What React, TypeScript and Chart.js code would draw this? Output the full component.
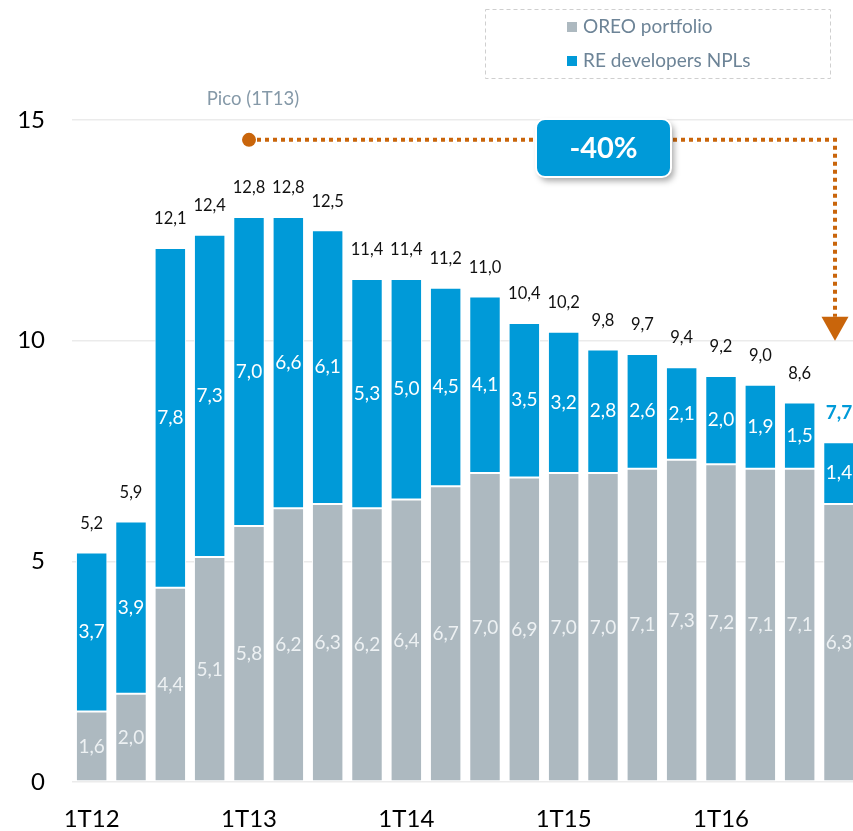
import React, { useEffect, useRef } from 'react';
import { Chart, registerables } from 'chart.js';

Chart.register(...registerables);

const quarters = [
  '1T12', '2T12', '3T12', '4T12',
  '1T13', '2T13', '3T13', '4T13',
  '1T14', '2T14', '3T14', '4T14',
  '1T15', '2T15', '3T15', '4T15',
  '1T16', '2T16', '3T16', '4T16',
];
const oreoValues = [1.6, 2.0, 4.4, 5.1, 5.8, 6.2, 6.3, 6.2, 6.4, 6.7, 7.0, 6.9, 7.0, 7.0, 7.1, 7.3, 7.2, 7.1, 7.1, 6.3];
const nplValues = [3.7, 3.9, 7.8, 7.3, 7.0, 6.6, 6.1, 5.3, 5.0, 4.5, 4.1, 3.5, 3.2, 2.8, 2.6, 2.1, 2.0, 1.9, 1.5, 1.4];
const totals = [5.2, 5.9, 12.1, 12.4, 12.8, 12.8, 12.5, 11.4, 11.4, 11.2, 11.0, 10.4, 10.2, 9.8, 9.7, 9.4, 9.2, 9.0, 8.6, 7.7];
const yTicks = [0, 5, 10, 15];
const seriesNames = ['OREO portfolio', 'RE developers NPLs'];
const peakLabel = 'Pico (1T13)';
const changeLabel = '-40%';
const peakIndex = 4;

const GRAY = '#adb9c0';
const BLUE = '#009ad8';
const ORANGE = '#c9650b';
const FONT = 'Lato, "Open Sans", sans-serif';

const fmt = (v: number) => v.toFixed(1).replace('.', ',');

const overlay = {
  id: 'overlay',
  afterDatasetsDraw(chart: any) {
    const ctx = chart.ctx as CanvasRenderingContext2D;
    const xs = chart.scales.x;
    const ys = chart.scales.y;
    ctx.save();
    ctx.textAlign = 'center';
    ctx.textBaseline = 'middle';
    const last = quarters.length - 1;
    quarters.forEach((_q, i) => {
      const cx = xs.getPixelForValue(i);
      const y0 = ys.getPixelForValue(0);
      const yG = ys.getPixelForValue(oreoValues[i]);
      const yT = ys.getPixelForValue(totals[i]);
      ctx.font = `19px ${FONT}`;
      ctx.fillStyle = '#edf1f3';
      ctx.fillText(fmt(oreoValues[i]), cx, (y0 + yG) / 2);
      ctx.fillStyle = '#ffffff';
      ctx.fillText(fmt(nplValues[i]), cx, (yG + yT) / 2);
      if (i === last) {
        ctx.font = `bold 19px ${FONT}`;
        ctx.fillStyle = BLUE;
      } else {
        ctx.font = `16.5px ${FONT}`;
        ctx.fillStyle = '#111111';
      }
      ctx.fillText(fmt(totals[i]), cx, yT - 29);
    });
    ctx.restore();
  },
  afterDraw(chart: any) {
    const ctx = chart.ctx as CanvasRenderingContext2D;
    const xs = chart.scales.x;
    const ys = chart.scales.y;
    ctx.save();

    // Legend
    ctx.setLineDash([4, 3]);
    ctx.strokeStyle = '#cfcfcf';
    ctx.lineWidth = 1;
    ctx.strokeRect(485.5, 9.5, 345, 69);
    ctx.setLineDash([]);
    ctx.font = `19px ${FONT}`;
    ctx.textAlign = 'left';
    ctx.textBaseline = 'middle';
    ctx.fillStyle = GRAY;
    ctx.fillRect(567, 22, 10, 10);
    ctx.fillStyle = BLUE;
    ctx.fillRect(567, 56, 10, 10);
    ctx.fillStyle = '#6d8497';
    ctx.fillText(seriesNames[0], 583, 27);
    ctx.fillText(seriesNames[1], 583, 61);

    // Peak annotation
    const px = xs.getPixelForValue(peakIndex);
    const lineY = ys.getPixelForValue(14.55);
    ctx.textAlign = 'center';
    ctx.font = `18.5px ${FONT}`;
    ctx.fillStyle = '#8599a8';
    ctx.fillText(peakLabel, px + 4, 99);

    const ax = xs.getPixelForValue(quarters.length - 1) - 4;
    const tipY = ys.getPixelForValue(10);
    ctx.strokeStyle = ORANGE;
    ctx.lineWidth = 4;
    ctx.setLineDash([4, 4]);
    ctx.beginPath();
    ctx.moveTo(px + 8, lineY);
    ctx.lineTo(ax, lineY);
    ctx.lineTo(ax, tipY - 24);
    ctx.stroke();
    ctx.setLineDash([]);
    ctx.fillStyle = ORANGE;
    ctx.beginPath();
    ctx.arc(px, lineY, 7, 0, Math.PI * 2);
    ctx.fill();
    ctx.beginPath();
    ctx.moveTo(ax - 13.5, tipY - 24);
    ctx.lineTo(ax + 13.5, tipY - 24);
    ctx.lineTo(ax, tipY);
    ctx.closePath();
    ctx.fill();

    // -40% box
    const bx = 536, by = 119, bw = 135, bh = 58, r = 9;
    ctx.save();
    ctx.shadowColor = 'rgba(0,0,0,0.35)';
    ctx.shadowBlur = 6;
    ctx.shadowOffsetX = 3;
    ctx.shadowOffsetY = 4;
    ctx.beginPath();
    ctx.roundRect(bx, by, bw, bh, r);
    ctx.fillStyle = BLUE;
    ctx.fill();
    ctx.restore();
    ctx.beginPath();
    ctx.roundRect(bx, by, bw, bh, r);
    ctx.strokeStyle = '#ffffff';
    ctx.lineWidth = 2;
    ctx.stroke();
    ctx.font = `bold 29px ${FONT}`;
    ctx.fillStyle = '#ffffff';
    ctx.textAlign = 'center';
    ctx.fillText(changeLabel, bx + bw / 2, by + bh / 2 + 1);

    ctx.restore();
  },
};

export default function App() {
  const ref = useRef<HTMLCanvasElement>(null);
  useEffect(() => {
    if (!ref.current) return;
    const chart = new Chart(ref.current, {
      type: 'bar',
      data: {
        labels: quarters,
        datasets: [
          {
            label: seriesNames[0],
            data: oreoValues,
            backgroundColor: GRAY,
            borderColor: '#ffffff',
            borderWidth: 1,
            borderSkipped: false,
            grouped: false,
            barPercentage: 0.8,
            categoryPercentage: 1,
          } as any,
          {
            label: seriesNames[1],
            data: quarters.map((_q, i) => [oreoValues[i], totals[i]]),
            backgroundColor: BLUE,
            borderColor: '#ffffff',
            borderWidth: 1,
            borderSkipped: false,
            grouped: false,
            barPercentage: 0.8,
            categoryPercentage: 1,
          } as any,
        ],
      },
      options: {
        animation: false,
        responsive: false,
        devicePixelRatio: 1,
        layout: { padding: { top: 120, left: 0, right: 0, bottom: 0 } },
        plugins: { legend: { display: false }, tooltip: { enabled: false } },
        scales: {
          x: {
            grid: { display: false, drawTicks: false },
            border: { display: false },
            ticks: {
              autoSkip: false,
              maxRotation: 0,
              padding: 23,
              color: '#000000',
              font: { family: FONT, size: 24 },
              callback: (_v: any, idx: number) => (quarters[idx].startsWith('1T') ? quarters[idx] : ''),
            },
            afterFit: (s: any) => { s.height = 49; },
          },
          y: {
            min: yTicks[0],
            max: yTicks[yTicks.length - 1],
            afterBuildTicks: (s: any) => { s.ticks = yTicks.map((v) => ({ value: v })); },
            grid: { color: '#ebebeb', lineWidth: 1.5, drawTicks: false },
            border: { display: false },
            ticks: {
              padding: 27,
              color: '#000000',
              font: { family: FONT, size: 24 },
              callback: (v: any) => String(v),
            },
            afterFit: (s: any) => { s.width = 72; },
          },
        },
      },
      plugins: [overlay],
    });
    return () => chart.destroy();
  }, []);
  return (
    <div style={{ position: 'absolute', left: 0, top: 0, width: 853, height: 831, overflow: 'hidden', background: '#ffffff' }}>
      <canvas ref={ref} width={862} height={831} style={{ width: 862, height: 831, display: 'block' }} />
    </div>
  );
}
